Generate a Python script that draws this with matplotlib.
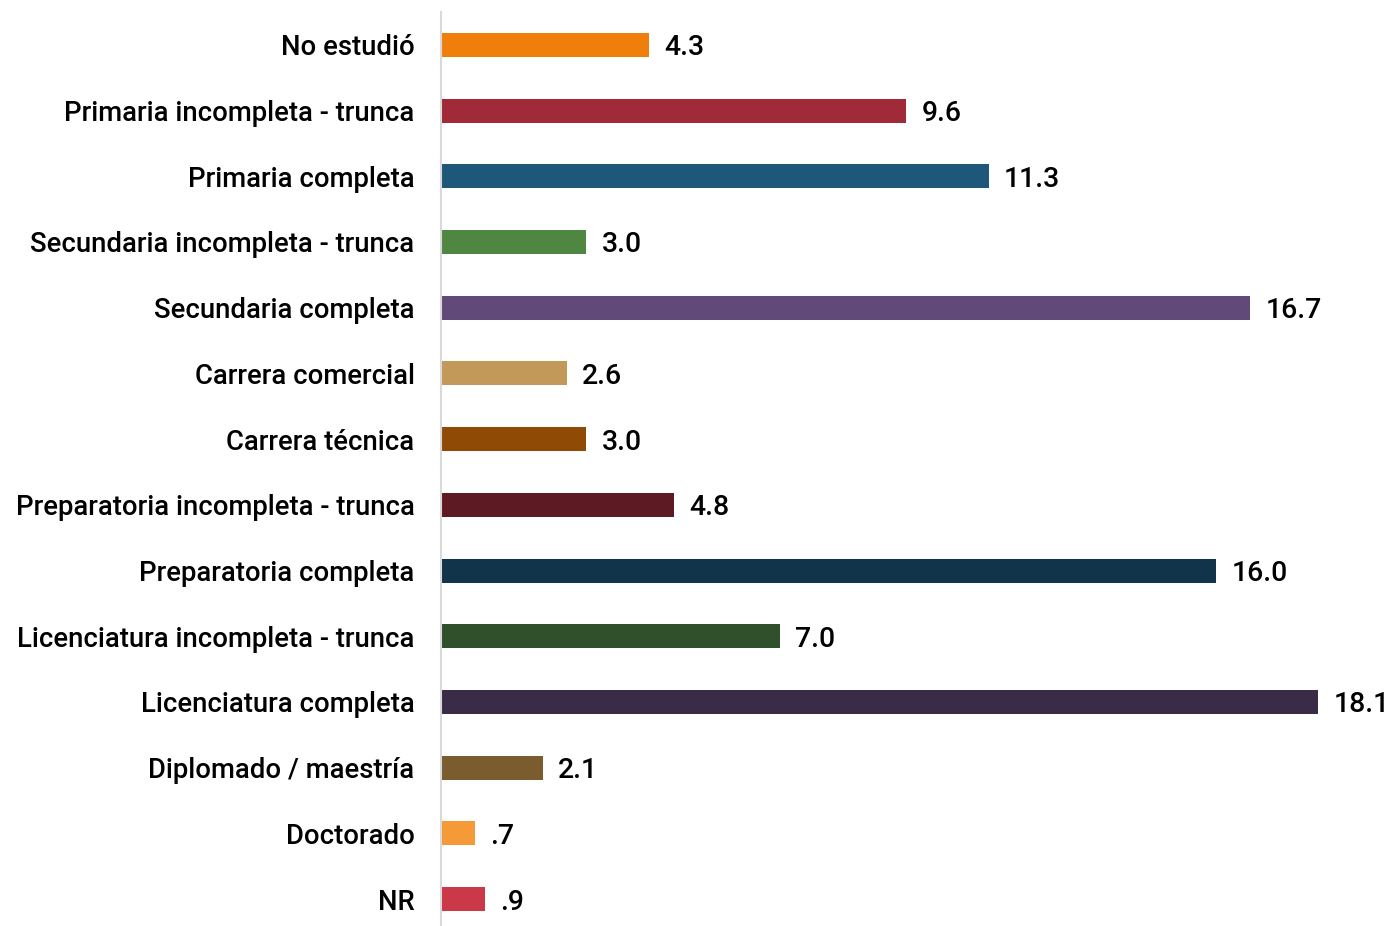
import matplotlib
matplotlib.use('Agg')
import matplotlib.pyplot as plt

# categories, top to bottom
categories = [
    'No estudió',
    'Primaria incompleta - trunca',
    'Primaria completa',
    'Secundaria incompleta - trunca',
    'Secundaria completa',
    'Carrera comercial',
    'Carrera técnica',
    'Preparatoria incompleta - trunca',
    'Preparatoria completa',
    'Licenciatura incompleta - trunca',
    'Licenciatura completa',
    'Diplomado / maestría',
    'Doctorado',
    'NR',
]
values = [4.3, 9.6, 11.3, 3.0, 16.7, 2.6, 3.0, 4.8, 16.0, 7.0, 18.1, 2.1, 0.7, 0.9]
value_labels = ['4.3', '9.6', '11.3', '3.0', '16.7', '2.6', '3.0', '4.8', '16.0', '7.0', '18.1', '2.1', '.7', '.9']
colors = ['#EF7F0A', '#A02A38', '#1D577A', '#4F8641', '#614A79', '#C3995A', '#8F4A06',
          '#5E1A22', '#12344B', '#30502B', '#3A2B47', '#7B5C2E', '#F69A37', '#CB3847']

plt.rcParams['font.family'] = ['Roboto', 'DejaVu Sans']
FS = 19.8

fig = plt.figure(figsize=(13.96, 9.26), dpi=100)
ax = fig.add_axes([441 / 1396, 0.0, 955 / 1396, 914 / 926])

pos = list(range(len(categories)))
ax.barh(pos, values, height=0.365, color=colors)

for y, v, lab in zip(pos, values, value_labels):
    ax.annotate(lab, (v, y), xytext=(11, 0), textcoords='offset points',
                va='center_baseline', ha='left', fontsize=FS + 0.6,
                fontweight='medium', color='black')

ax.set_yticks(pos)
ax.set_yticklabels(categories, fontsize=FS, fontweight='medium', va='center_baseline')
ax.set_ylim(13.41, -0.5)
ax.set_xlim(0, 19.71)
ax.set_xticks([])
ax.tick_params(axis='y', length=0, pad=19)

for s in ['top', 'right', 'bottom']:
    ax.spines[s].set_visible(False)
ax.spines['left'].set_color('#D9D9D9')
ax.spines['left'].set_linewidth(1.5)

fig.savefig('out.png', dpi=100)
